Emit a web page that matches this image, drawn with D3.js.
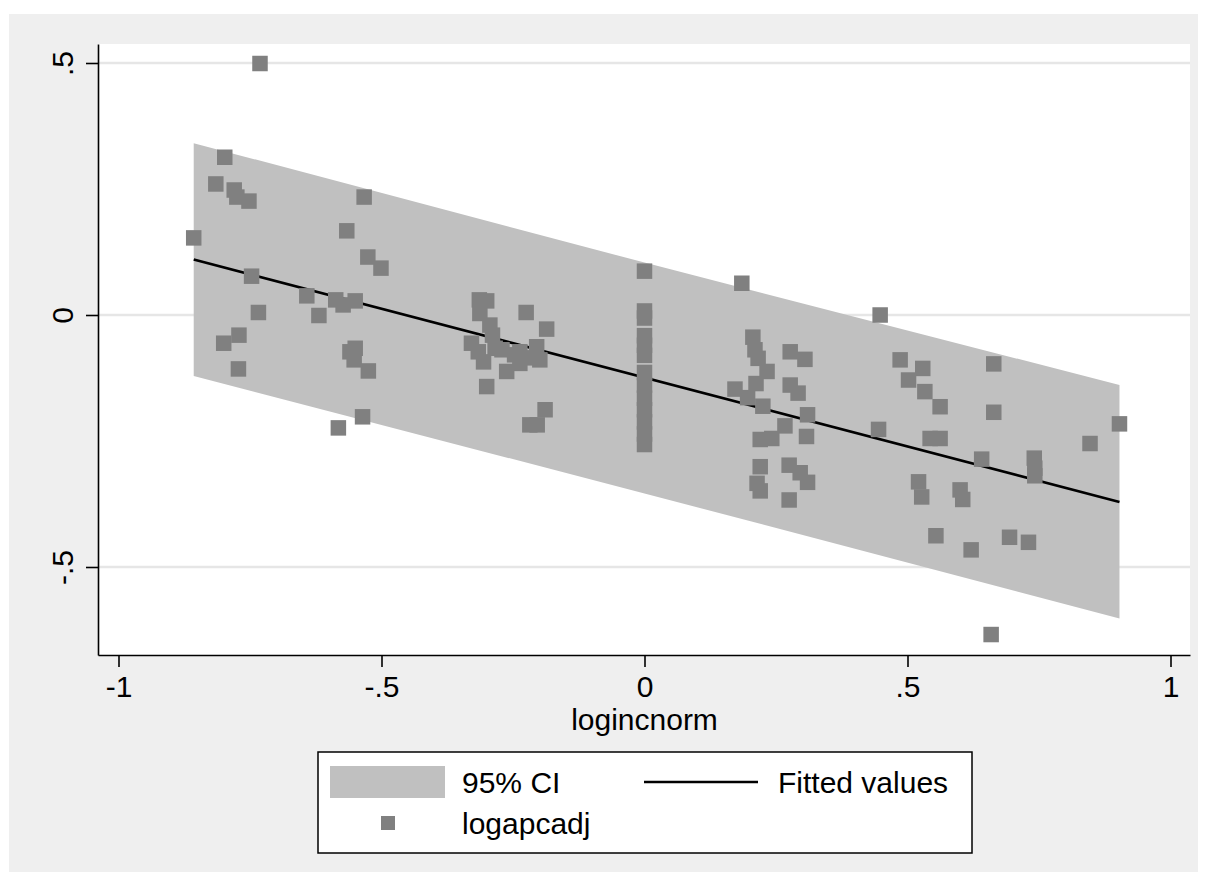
<!DOCTYPE html>
<html>
<head>
<meta charset="utf-8">
<script src="https://cdn.jsdelivr.net/npm/d3@7"></script>
<style>
  html, body { margin: 0; padding: 0; background: #ffffff; }
  svg { display: block; }
  text { font-family: "Liberation Sans", Arial, Helvetica, sans-serif; fill: #000; }
</style>
</head>
<body>
<svg id="chart" width="1206" height="886"></svg>
<script>
// ---------------- data ----------------
const pointX = [
  -0.731, -0.798, -0.815, -0.780, -0.775, -0.752, -0.857, -0.533, -0.566, -0.526,
  -0.501, -0.747, -0.642, -0.587, -0.573, -0.550, -0.619, -0.734, -0.771, -0.800,
  -0.772, -0.550, -0.560, -0.552, -0.525, -0.536, -0.582,
  -0.314, -0.300, -0.313, -0.294, -0.289, -0.329, -0.316, -0.306, -0.271, -0.262,
  -0.300, -0.225, -0.186, -0.205, -0.237, -0.237, -0.199, -0.189, -0.218, -0.204,
  -0.247, -0.218, -0.284,
  0, 0, 0, 0, 0, 0, 0, 0, 0, 0, 0, 0, 0,
  0.185, 0.206, 0.210, 0.216, 0.233, 0.212, 0.172, 0.196, 0.225, 0.277,
  0.305, 0.277, 0.292, 0.310, 0.267, 0.220, 0.242, 0.308, 0.220, 0.275,
  0.296, 0.310, 0.214, 0.220, 0.275,
  0.448, 0.486, 0.529, 0.502, 0.533, 0.562, 0.445, 0.543, 0.562, 0.521,
  0.527, 0.600, 0.605, 0.554, 0.621, 0.664, 0.664, 0.903, 0.847, 0.641,
  0.741, 0.742, 0.742, 0.694, 0.730, 0.659
];
const pointY = [
  0.499, 0.313, 0.260, 0.248, 0.234, 0.226, 0.153, 0.234, 0.167, 0.115,
  0.093, 0.077, 0.038, 0.030, 0.020, 0.028, -0.001, 0.005, -0.040, -0.056,
  -0.107, -0.066, -0.073, -0.089, -0.111, -0.202, -0.224,
  0.030, 0.028, 0.003, -0.020, -0.040, -0.056, -0.073, -0.093, -0.069, -0.112,
  -0.142, 0.005, -0.028, -0.063, -0.073, -0.096, -0.089, -0.188, -0.218, -0.218,
  -0.079, -0.085, -0.066,
  0.087, 0.008, -0.006, -0.041, -0.060, -0.080, -0.114, -0.139, -0.165, -0.188, -0.212, -0.236, -0.257,
  0.063, -0.044, -0.069, -0.086, -0.112, -0.136, -0.147, -0.164, -0.181, -0.073,
  -0.088, -0.139, -0.155, -0.198, -0.220, -0.247, -0.245, -0.241, -0.301, -0.298,
  -0.313, -0.332, -0.334, -0.349, -0.367,
  0.000, -0.089, -0.106, -0.129, -0.152, -0.182, -0.227, -0.245, -0.245, -0.331,
  -0.361, -0.347, -0.366, -0.438, -0.466, -0.097, -0.193, -0.216, -0.255, -0.286,
  -0.284, -0.304, -0.319, -0.441, -0.451, -0.634
];

// fitted regression line (endpoints) and 95% CI band
const fitX = [-0.857, 0.903];
const fitY = [0.110, -0.371];
const ciX  = [-0.857, 0.0, 0.903];
const ciHi = [0.341, 0.104, -0.139];
const ciLo = [-0.121, -0.354, -0.602];

const xTickValues = [-1, -0.5, 0, 0.5, 1];
const xTickLabels = ["-1", "-.5", "0", ".5", "1"];
const yTickValues = [-0.5, 0, 0.5];
const yTickLabels = ["-.5", "0", ".5"];

const xTitle = "logincnorm";
const legendLabels = ["95% CI", "Fitted values", "logapcadj"];

// ---------------- layout ----------------
const plot = { left: 98, right: 1190, top: 44, bottom: 655 };
const FONT = 30;
const COL_CI = "#c0c0c0", COL_PT = "#808080", COL_BG = "#efefef", COL_GRID = "#e6e6e6";

const svg = d3.select("#chart");

// graph region
svg.append("rect").attr("x", 9).attr("y", 14).attr("width", 1189).attr("height", 858).attr("fill", COL_BG);
// plot region
svg.append("rect").attr("x", plot.left).attr("y", plot.top)
  .attr("width", plot.right - plot.left).attr("height", plot.bottom - plot.top).attr("fill", "#ffffff");

const x = d3.scaleLinear().domain([-1, 1]).range([118.5, 1170.5]);
const y = d3.scaleLinear().domain([-0.5, 0.5]).range([567, 63]);
x.domain([x.invert(plot.left), x.invert(plot.right)]).range([plot.left, plot.right]);
y.domain([y.invert(plot.bottom), y.invert(plot.top)]).range([plot.bottom, plot.top]);

// gridlines
svg.append("g").selectAll("line").data(yTickValues).join("line")
  .attr("x1", plot.left).attr("x2", plot.right)
  .attr("y1", d => y(d)).attr("y2", d => y(d))
  .attr("stroke", COL_GRID).attr("stroke-width", 2.5);

// CI band
const ciData = ciX.map((v, i) => ({ x: v, lo: ciLo[i], hi: ciHi[i] }));
svg.append("path").datum(ciData)
  .attr("d", d3.area().x(d => x(d.x)).y0(d => y(d.lo)).y1(d => y(d.hi)))
  .attr("fill", COL_CI);

// fitted line
const fitData = fitX.map((v, i) => ({ x: v, y: fitY[i] }));
svg.append("path").datum(fitData)
  .attr("d", d3.line().x(d => x(d.x)).y(d => y(d.y)))
  .attr("fill", "none").attr("stroke", "#000").attr("stroke-width", 2.6);

// scatter points
const MS = 15.5;
const pts = pointX.map((v, i) => ({ x: v, y: pointY[i] }));
svg.append("g").selectAll("rect").data(pts).join("rect")
  .attr("x", d => x(d.x) - MS / 2).attr("y", d => y(d.y) - MS / 2)
  .attr("width", MS).attr("height", MS).attr("fill", COL_PT);

// axes
const xAxis = d3.axisBottom(x).tickValues(xTickValues)
  .tickFormat((d, i) => xTickLabels[i]).tickSize(12).tickSizeOuter(0);
const gx = svg.append("g").attr("transform", `translate(0,${plot.bottom})`).call(xAxis);
gx.select(".domain").attr("stroke", "#000").attr("stroke-width", 1.6);
gx.selectAll(".tick line").attr("stroke", "#000").attr("stroke-width", 1.6);
gx.selectAll(".tick text").attr("y", 42).attr("dy", null)
  .style("font-size", FONT + "px").style("font-family", '"Liberation Sans", Arial, sans-serif').attr("fill", "#000");

const yAxis = d3.axisLeft(y).tickValues(yTickValues)
  .tickFormat((d, i) => yTickLabels[i]).tickSize(12).tickSizeOuter(0);
const gy = svg.append("g").attr("transform", `translate(${plot.left},0)`).call(yAxis);
gy.select(".domain").attr("stroke", "#000").attr("stroke-width", 1.6);
gy.selectAll(".tick line").attr("stroke", "#000").attr("stroke-width", 1.6);
gy.selectAll(".tick text").attr("x", 0).attr("dy", null)
  .attr("transform", "translate(-25,0) rotate(-90)")
  .attr("text-anchor", "middle")
  .style("font-size", FONT + "px").style("font-family", '"Liberation Sans", Arial, sans-serif').attr("fill", "#000");

// x title
svg.append("text").attr("x", x(0)).attr("y", 730).attr("text-anchor", "middle")
  .style("font-size", FONT + "px").text(xTitle);

// legend
const lg = svg.append("g");
lg.append("rect").attr("x", 318).attr("y", 752).attr("width", 654).attr("height", 101)
  .attr("fill", "#fff").attr("stroke", "#000").attr("stroke-width", 1.5);
lg.append("rect").attr("x", 330).attr("y", 766).attr("width", 115).attr("height", 32).attr("fill", COL_CI);
lg.append("text").attr("x", 462).attr("y", 793).style("font-size", FONT + "px").text(legendLabels[0]);
lg.append("line").attr("x1", 644).attr("x2", 758).attr("y1", 782).attr("y2", 782)
  .attr("stroke", "#000").attr("stroke-width", 2.4);
lg.append("text").attr("x", 778).attr("y", 793).style("font-size", FONT + "px").text(legendLabels[1]);
lg.append("rect").attr("x", 388 - 7).attr("y", 823 - 7).attr("width", 14).attr("height", 14).attr("fill", COL_PT);
lg.append("text").attr("x", 462).attr("y", 834).style("font-size", FONT + "px").text(legendLabels[2]);
</script>
</body>
</html>
